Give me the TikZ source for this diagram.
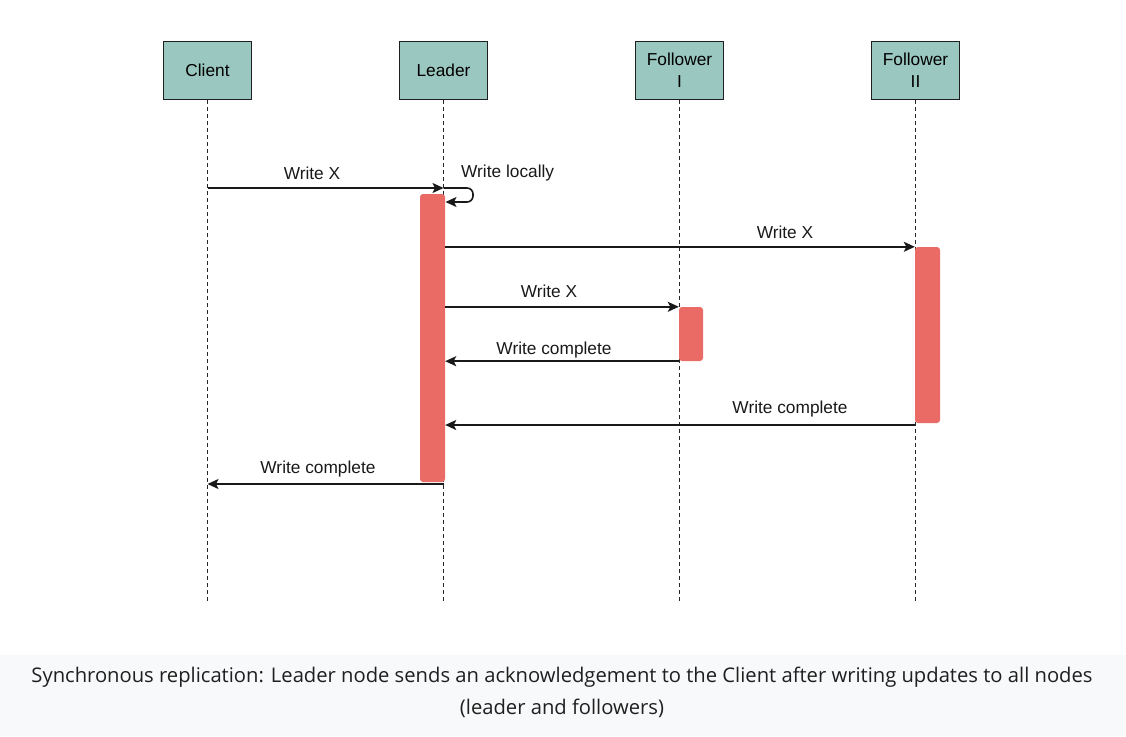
\documentclass[tikz,border=0pt]{standalone}
\usepackage{fontspec}
\setmainfont{Liberation Sans}
\newfontfamily\capfont{Open Sans}
\usetikzlibrary{arrows.meta}
\definecolor{boxfill}{HTML}{9AC7BF}
\definecolor{barfill}{HTML}{EA6B66}
\definecolor{bandfill}{HTML}{F8F9FA}
\definecolor{captext}{HTML}{1F1F1F}
\begin{document}
\begin{tikzpicture}[x=1pt,y=-1pt,
  actor/.style={draw=black!88, line width=1.6pt, fill=boxfill, minimum width=88pt,
    minimum height=58pt, inner sep=0pt, align=center,
    font=\fontsize{17.3}{22}\selectfont},
  life/.style={dash pattern=on 4pt off 3pt, line width=1.4pt, black!85},
  bar/.style={fill=barfill, draw=none, rounded corners=3pt, inner sep=0pt},
  msg/.style={-{Stealth[length=11pt,width=10pt,inset=2.5pt]}, line width=1.6pt, black!90},
  lbl/.style={font=\fontsize{17.3}{21}\selectfont, inner sep=0pt, text=black!90}
]
\useasboundingbox (0,0) rectangle (1126,736);
\fill[bandfill] (0,655) rectangle (1126,736);

% actors
\node[actor] (client) at (207.5,70.5) {Client};
\node[actor] (leader) at (443.5,70.5) {Leader};
\node[actor] (f1) at (679.5,70.5) {Follower\\I};
\node[actor] (f2) at (915.5,70.5) {Follower\\II};

% lifeline ends
\coordinate (clientend) at (207.5,602);
\coordinate (leaderend) at (443.5,602);
\coordinate (f1end) at (679.5,602);
\coordinate (f2end) at (915.5,602);
\draw[life] (client.south) -- (clientend);
\draw[life] (leader.south) -- (leaderend);
\draw[life] (f1.south) -- (f1end);
\draw[life] (f2.south) -- (f2end);

% activation bars
\node[bar, minimum width=25pt, minimum height=288pt] (lbar) at (432.5,338) {};
\node[bar, minimum width=25pt, minimum height=176pt] (f2bar) at (927.5,335) {};
\node[bar, minimum width=24pt, minimum height=54pt] (f1bar) at (691,334) {};

% messages
\coordinate (c1) at (207.5,188);
\coordinate (l1) at (443.5,188);
\draw[msg] (c1) -- (l1);
\node[lbl] (t1) at (312,173) {Write X};

\coordinate (l2) at (445.5,202);
\draw[msg, rounded corners=6pt] (l1) -- (473,188) -- (473,202) -- (l2);
\node[lbl, anchor=west] (t2) at (461,173) {Write locally};

\draw[msg] (lbar.east |- f2bar.north west) -- (f2bar.north west);
\node[lbl] (t3) at (785,232) {Write X};

\draw[msg] (lbar.east |- f1bar.north west) -- (f1bar.north west);
\node[lbl] (t4) at (549,291) {Write X};

\draw[msg] (f1bar.south west) -- (lbar.east |- f1bar.south west);
\node[lbl] (t5) at (554,350) {Write complete};

\coordinate (f2ret) at (915,425);
\draw[msg] (f2ret) -- (lbar.east |- f2ret);
\node[lbl] (t6) at (790,409) {Write complete};

\coordinate (lret) at (443.5,484);
\draw[msg] (lret) -- (clientend |- lret);
\node[lbl] (t7) at (318,469) {Write complete};

% caption
\node[font=\capfont\fontsize{20.2}{32}\selectfont, text=captext, align=center, inner sep=0pt] (cap) at (562,692)
  {Synchronous replication: Leader node sends an acknowledgement to the Client after writing updates to all nodes\\(leader and followers)};
\end{tikzpicture}
\end{document}
